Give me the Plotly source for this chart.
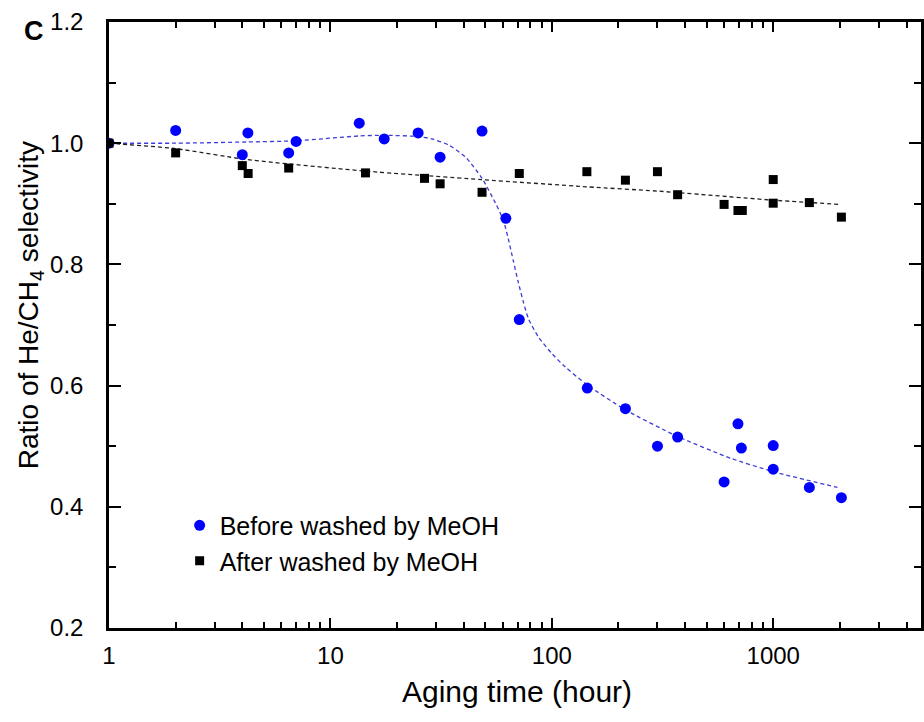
import plotly.graph_objects as go
import math

# Before washed by MeOH (blue circles)
before_x = [1, 2, 4.24, 4.0, 6.48, 7.0, 13.5, 17.5, 24.9, 31.3, 48.4, 62, 71.3, 144.6, 215, 300, 370, 600, 693, 718, 1000, 1000, 1456, 2032]
before_y = [1.0, 1.021, 1.017, 0.981, 0.984, 1.003, 1.033, 1.007, 1.017, 0.977, 1.020, 0.876, 0.709, 0.596, 0.562, 0.500, 0.515, 0.441, 0.537, 0.497, 0.501, 0.462, 0.432, 0.415]

# After washed by MeOH (black squares)
after_x = [1, 2, 4.0, 4.25, 6.48, 14.4, 26.6, 31.3, 48.4, 71.3, 144, 215, 300, 370, 600, 693, 725, 1000, 1000, 1456, 2032]
after_y = [1.0, 0.984, 0.963, 0.950, 0.959, 0.951, 0.942, 0.933, 0.919, 0.950, 0.953, 0.939, 0.953, 0.915, 0.899, 0.889, 0.889, 0.940, 0.901, 0.902, 0.878]

# Fitted curves
before_fit_x = [1, 2, 4.2, 7, 13.5, 17.5, 25, 28.8, 34.2, 40.8, 48.4, 55.5, 60.4, 63.6, 67.0, 70.6, 74.4, 78.5, 87.1, 100, 114.8, 144.6, 215, 370, 644, 1000, 1950]
before_fit_y = [1.0, 1.0, 1.002, 1.004, 1.012, 1.013, 1.011, 1.007, 0.997, 0.977, 0.942, 0.902, 0.873, 0.842, 0.806, 0.770, 0.738, 0.710, 0.680, 0.653, 0.631, 0.601, 0.560, 0.516, 0.480, 0.458, 0.432]

after_fit_x = [1, 2, 4.2, 14.4, 48, 144, 300, 1000, 2000]
after_fit_y = [1.0, 0.991, 0.973, 0.954, 0.940, 0.928, 0.921, 0.906, 0.899]

x_major = [1, 10, 100, 1000]
x_minor = [m * d for d in (1, 10, 100, 1000) for m in range(2, 10) if m * d < 4700]
y_major = [0.2, 0.4, 0.6, 0.8, 1.0, 1.2]

FONT = "Liberation Sans, Arial, sans-serif"

fig = go.Figure()
fig.add_trace(go.Scatter(x=before_fit_x, y=before_fit_y, mode="lines", line=dict(color="#3c3cd6", width=1.3, dash="4px,3px", shape="spline", smoothing=0.6), showlegend=False, hoverinfo="skip"))
fig.add_trace(go.Scatter(x=after_fit_x, y=after_fit_y, mode="lines", line=dict(color="#222222", width=1.3, dash="4px,3px", shape="spline", smoothing=0.6), showlegend=False, hoverinfo="skip"))
fig.add_trace(go.Scatter(x=before_x, y=before_y, mode="markers", name="Before washed by MeOH", marker=dict(symbol="circle", size=11, color="#0000ff")))
fig.add_trace(go.Scatter(x=after_x, y=after_y, mode="markers", name="After washed by MeOH", marker=dict(symbol="square", size=9, color="#000000")))

fig.update_xaxes(type="log", range=[0, math.log10(4650)], tickvals=x_major, ticktext=["1", "10", "100", "1000"],
                 ticks="inside", ticklen=10, tickwidth=2, tickcolor="black",
                 minor=dict(tickvals=x_minor, ticks="inside", ticklen=6, tickwidth=1.5, tickcolor="black", showgrid=False),
                 showline=True, linewidth=2.5, linecolor="black", mirror="allticks", showgrid=False, zeroline=False,
                 tickfont=dict(family=FONT, size=24, color="black"), ticklabelstandoff=4)
fig.update_yaxes(range=[0.2, 1.2], tickvals=y_major, ticktext=["0.2", "0.4", "0.6", "0.8", "1.0", "1.2"],
                 ticks="inside", ticklen=12, tickwidth=2, tickcolor="black",
                 minor=dict(dtick=0.1, ticks="inside", ticklen=7, tickwidth=1.5, tickcolor="black", showgrid=False),
                 showline=True, linewidth=2.5, linecolor="black", mirror="allticks", showgrid=False, zeroline=False,
                 tickfont=dict(family=FONT, size=24, color="black"), ticklabelstandoff=18)

fig.add_annotation(text="Aging time (hour)", xref="paper", yref="paper", x=0.503, y=-0.104, showarrow=False,
                   font=dict(family=FONT, size=30, color="black"), xanchor="center", yanchor="middle")
fig.add_annotation(text="Ratio of He/CH<sub>4</sub> selectivity", xref="paper", yref="paper", x=-0.097, y=0.533,
                   textangle=-90, showarrow=False, font=dict(family=FONT, size=28, color="black"),
                   xanchor="center", yanchor="middle")
fig.add_annotation(text="<b>C</b>", xref="paper", yref="paper", x=-0.092, y=0.985, showarrow=False,
                   font=dict(family=FONT, size=27, color="black"), xanchor="center", yanchor="middle")

fig.update_layout(width=924, height=722, margin=dict(l=109, r=0, t=22, b=94),
                  paper_bgcolor="white", plot_bgcolor="white",
                  legend=dict(x=0.087, y=0.207, xanchor="left", yanchor="top", bgcolor="rgba(0,0,0,0)",
                              font=dict(family=FONT, size=25, color="black"), itemwidth=30),
                  font=dict(family=FONT, color="black"))

fig.write_html("out.html")
